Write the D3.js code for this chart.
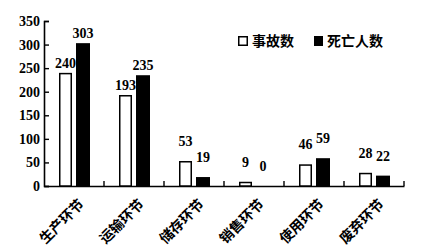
<!DOCTYPE html>
<html><head><meta charset="utf-8">
<script src="https://cdn.jsdelivr.net/npm/d3@7"></script>
<style>body{margin:0;background:#fff}svg{display:block}</style>
</head><body>
<script>
const categories = ["生产环节","运输环节","储存环节","销售环节","使用环节","废弃环节"];
const accidents = [240,193,53,9,46,28];
const deaths = [303,235,19,0,59,22];
const seriesNames = ["事故数","死亡人数"];
const yTicks = [0,50,100,150,200,250,300,350];

const W=432,H=251;
const svg=d3.select("body").append("svg").attr("width",W).attr("height",H);
const x=d3.scaleBand().domain(categories).range([44,404]).paddingInner(0).paddingOuter(0);
const y=d3.scaleLinear().domain([0,350]).range([186,21]);
const serif="'Liberation Serif','Times New Roman',serif";
const cjk="'Noto Sans CJK SC',sans-serif";

// y axis
const ya=svg.append("g").attr("transform","translate(44,0)").call(d3.axisLeft(y).tickValues(yTicks).tickSize(-5).tickPadding(6));
ya.select(".domain").attr("stroke","#000").attr("stroke-width",1.6);
ya.selectAll(".tick line").attr("stroke","#000").attr("stroke-width",1.4);
ya.selectAll(".tick text").attr("font-family",serif).attr("font-size",14).attr("font-weight","bold").attr("fill","#000").attr("dx",2);

// x axis
const xa=svg.append("g").attr("transform","translate(0,186)").call(d3.axisBottom(x).tickSize(0).tickFormat(""));
xa.select(".domain").attr("stroke","#000").attr("stroke-width",1.6);
// boundary ticks between categories
svg.append("g").selectAll("line").data(categories).join("line")
  .attr("x1",d=>x(d)+x.bandwidth()).attr("x2",d=>x(d)+x.bandwidth())
  .attr("y1",186).attr("y2",181).attr("stroke","#000").attr("stroke-width",1.4);

const bw=13, gap=4;
const g=svg.append("g");
categories.forEach((c,i)=>{
  const cx=x(c)+x.bandwidth()/2;
  const xs=[cx-gap/2-bw, cx+gap/2];
  [accidents[i],deaths[i]].forEach((v,j)=>{
    if(v>0){
      g.append("rect").attr("x",xs[j]+(j===0?0.75:0)).attr("y",y(v)+(j===0?0.75:0))
        .attr("width",bw-(j===0?1.5:0)+(j===1?1:0)).attr("height",186-y(v)-(j===0?0.75:0))
        .attr("fill",j===0?"#fff":"#000").attr("stroke","#000").attr("stroke-width",j===0?1.5:0);
    }
    g.append("text").attr("x",xs[j]+bw/2+(j===1?0.5:0))
      .attr("y",y(v)-(v>=100?5:15))
      .attr("text-anchor","middle").attr("font-family",serif).attr("font-size",14).attr("font-weight","bold")
      .text(v);
  });
  g.append("text").attr("transform",`translate(${cx+11},${205}) rotate(-45)`)
    .attr("text-anchor","end").attr("font-family",cjk).attr("font-size",14).attr("font-weight","bold").text(c);
});

// legend
const lg=svg.append("g");
lg.append("rect").attr("x",238.75).attr("y",36.75).attr("width",8.5).attr("height",8.5).attr("fill","#fff").attr("stroke","#000").attr("stroke-width",1.5);
lg.append("text").attr("x",252).attr("y",46).attr("font-family",cjk).attr("font-size",14).attr("font-weight","bold").text(seriesNames[0]);
lg.append("rect").attr("x",314).attr("y",36).attr("width",9).attr("height",10).attr("fill","#000");
lg.append("text").attr("x",327).attr("y",46).attr("font-family",cjk).attr("font-size",14).attr("font-weight","bold").text(seriesNames[1]);
</script>
</body></html>
